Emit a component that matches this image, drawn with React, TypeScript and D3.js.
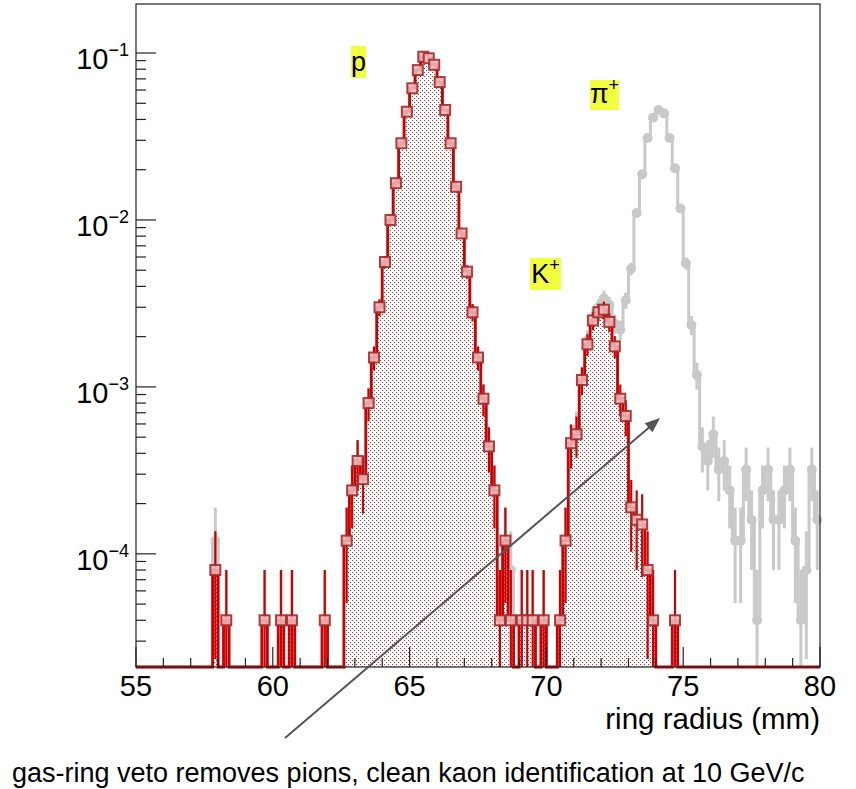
import React, { useRef, useEffect } from 'react';
import * as d3 from 'd3';

// histogram axis: 125 bins of 0.2 mm between 55 and 80 mm
const xMin = 55;
const xMax = 80;
const binWidth = 0.2;
const yMin = 2.1e-5;
const yMax = 0.1966;
// weight of a single entry (normalised)
const entryWeight = 4e-5;

const xTicks = [55, 60, 65, 70, 75, 80];
const yDecades = [1e-1, 1e-2, 1e-3, 1e-4];
const yDecadeExp = ['\u22121', '\u22122', '\u22123', '\u22124'];

// after gas-ring veto (red): [bin centre (mm), fraction]
const vetoBins: [number, number][] = [
  [57.9, 8e-5], [58.3, 4e-5], [59.7, 4e-5], [60.3, 4e-5], [60.7, 4e-5], [61.9, 4e-5],
  [62.7, 1.2e-4], [62.9, 2.4e-4], [63.1, 3.6e-4], [63.3, 2.8e-4], [63.5, 8.0e-4],
  [63.7, 1.5e-3], [63.9, 3.0e-3], [64.1, 5.6e-3], [64.3, 1.0e-2], [64.5, 1.66e-2],
  [64.7, 2.88e-2], [64.9, 4.45e-2], [65.1, 6.15e-2], [65.3, 7.9e-2], [65.5, 9.5e-2],
  [65.7, 9.3e-2], [65.9, 8.5e-2], [66.1, 6.7e-2], [66.3, 4.56e-2], [66.5, 2.88e-2],
  [66.7, 1.58e-2], [66.9, 8.3e-3], [67.1, 4.9e-3], [67.3, 2.8e-3], [67.5, 1.5e-3],
  [67.7, 8.5e-4], [67.9, 4.4e-4], [68.1, 2.4e-4], [68.3, 4e-5], [68.5, 1.2e-4],
  [68.7, 4e-5], [69.1, 4e-5], [69.3, 4e-5], [69.5, 4e-5], [69.9, 4e-5],
  [70.5, 4e-5], [70.7, 1.2e-4], [70.9, 4.6e-4], [71.1, 5.2e-4], [71.3, 1.1e-3],
  [71.5, 1.8e-3], [71.7, 2.5e-3], [71.9, 2.8e-3], [72.1, 2.9e-3], [72.3, 2.45e-3],
  [72.5, 1.75e-3], [72.7, 8.5e-4], [72.9, 6.7e-4], [73.1, 1.9e-4], [73.3, 1.6e-4],
  [73.5, 1.5e-4], [73.7, 8e-5], [73.9, 4e-5], [74.7, 4e-5],
];

// without veto (grey): bins where it differs from the vetoed sample
const noVetoDiff: [number, number][] = [
  [57.9, 1.2e-4], [68.7, 8e-5],
  [71.1, 5.6e-4], [71.5, 1.9e-3], [71.7, 2.6e-3], [71.9, 3.0e-3], [72.1, 3.4e-3],
  [72.3, 3.1e-3], [72.5, 2.4e-3], [72.7, 2.2e-3], [72.9, 3.3e-3], [73.1, 5.1e-3],
  [73.3, 1.1e-2], [73.5, 1.88e-2], [73.7, 3.1e-2], [73.9, 4.1e-2], [74.1, 4.56e-2],
  [74.3, 4.35e-2], [74.5, 3.1e-2], [74.7, 2.04e-2], [74.9, 1.17e-2], [75.1, 5.5e-3],
  [75.3, 2.35e-3], [75.5, 1.18e-3], [75.7, 4.4e-4], [75.9, 3.6e-4], [76.1, 5.2e-4],
  [76.3, 3.2e-4], [76.5, 3.6e-4], [76.7, 2.4e-4], [76.9, 1.2e-4], [77.1, 1.2e-4],
  [77.3, 3.2e-4], [77.5, 1.6e-4], [77.7, 4e-5], [77.9, 2.4e-4], [78.1, 3.2e-4],
  [78.3, 1.6e-4], [78.5, 1.6e-4], [78.7, 2.4e-4], [78.9, 3.2e-4], [79.1, 1.2e-4],
  [79.3, 4e-5], [79.5, 8e-5], [79.7, 3.2e-4], [79.9, 1.6e-4],
];

const caption = 'gas-ring veto removes pions, clean kaon identification at 10 GeV/c';

export default function App() {
  const svgRef = useRef<SVGSVGElement>(null);

  useEffect(() => {
    const width = 856;
    const height = 789;
    const left = 136;
    const right = 820;
    const top = 4;
    const bottom = 667;
    const font = 'Liberation Sans, Arial, Helvetica, sans-serif';

    const svg = d3.select(svgRef.current);
    svg.selectAll('*').remove();
    svg.attr('width', width).attr('height', height).attr('viewBox', [0, 0, width, height]);

    const x = d3.scaleLinear().domain([xMin, xMax]).range([left, right]);
    const y = d3.scaleLog().domain([yMin, yMax]).range([bottom, top]);
    const yv = (v: number) => (v > yMin ? y(v) : bottom);

    const nBins = Math.round((xMax - xMin) / binWidth);
    const binIndex = (c: number) => Math.round((c - xMin - binWidth / 2) / binWidth);
    const red: number[] = new Array(nBins).fill(0);
    vetoBins.forEach(([c, v]) => { red[binIndex(c)] = v; });
    const grey = red.slice();
    noVetoDiff.forEach(([c, v]) => { grey[binIndex(c)] = v; });

    const steps = (arr: number[]) => {
      const pts = arr.map((v, i) => [xMin + i * binWidth, v] as [number, number]);
      pts.push([xMax, arr[nBins - 1]]);
      return pts;
    };
    const line = d3.line<[number, number]>()
      .x(d => x(d[0])).y(d => yv(d[1])).curve(d3.curveStepAfter);
    const area = d3.area<[number, number]>()
      .x(d => x(d[0])).y0(bottom).y1(d => yv(d[1])).curve(d3.curveStepAfter);

    const points = (arr: number[]) => arr
      .map((v, i) => ({ c: xMin + (i + 0.5) * binWidth, v }))
      .filter(d => d.v > 0);
    const err = (v: number) => Math.sqrt(v / entryWeight) * entryWeight;

    svg.append('rect').attr('width', width).attr('height', height).attr('fill', '#fff');

    const defs = svg.append('defs');
    const pat = defs.append('pattern')
      .attr('id', 'dots').attr('patternUnits', 'userSpaceOnUse')
      .attr('width', 4).attr('height', 4);
    pat.append('rect').attr('width', 4).attr('height', 4).attr('fill', '#fff');
    pat.append('rect').attr('x', 0).attr('y', 0).attr('width', 1).attr('height', 1).attr('fill', '#b03030');
    pat.append('rect').attr('x', 2).attr('y', 2).attr('width', 1).attr('height', 1).attr('fill', '#b03030');

    // grey: no veto
    const greyCol = '#c9c9c9';
    svg.append('path').attr('d', line(steps(grey))).attr('fill', 'none')
      .attr('stroke', greyCol).attr('stroke-width', 3);
    const gp = points(grey);
    svg.append('g').selectAll('line').data(gp).join('line')
      .attr('x1', d => x(d.c)).attr('x2', d => x(d.c))
      .attr('y1', d => yv(d.v - err(d.v))).attr('y2', d => yv(d.v + err(d.v)))
      .attr('stroke', greyCol).attr('stroke-width', 3);
    svg.append('g').selectAll('circle').data(gp).join('circle')
      .attr('cx', d => x(d.c)).attr('cy', d => yv(d.v)).attr('r', 5)
      .attr('fill', greyCol);

    // red: gas-ring veto
    const redCol = '#cc0000';
    svg.append('path').attr('d', area(steps(red))).attr('fill', 'url(#dots)');
    svg.append('path').attr('d', line(steps(red))).attr('fill', 'none')
      .attr('stroke', redCol).attr('stroke-width', 2.8);
    const rp = points(red);
    svg.append('g').selectAll('line').data(rp).join('line')
      .attr('x1', d => x(d.c)).attr('x2', d => x(d.c))
      .attr('y1', d => yv(d.v - err(d.v))).attr('y2', d => yv(d.v + err(d.v)))
      .attr('stroke', redCol).attr('stroke-width', 2.2);
    svg.append('g').selectAll('rect').data(rp).join('rect')
      .attr('x', d => x(d.c) - 5).attr('y', d => yv(d.v) - 5)
      .attr('width', 10).attr('height', 10)
      .attr('fill', '#efc0c0').attr('fill-opacity', 0.85)
      .attr('stroke', '#a52a2a').attr('stroke-opacity', 0.9).attr('stroke-width', 2);

    // axes (ROOT style ticks inside the frame)
    const axis = svg.append('g').attr('stroke', '#222').attr('stroke-width', 1.2);
    d3.range(xMin, xMax + 0.5, 1).forEach(t => {
      const major = t % 5 === 0;
      axis.append('line').attr('x1', x(t)).attr('x2', x(t))
        .attr('y1', bottom).attr('y2', bottom - (major ? 20 : 9));
    });
    yDecades.forEach(d => {
      axis.append('line').attr('x1', left).attr('x2', left + 20).attr('y1', y(d)).attr('y2', y(d));
    });
    [1e-5, 1e-4, 1e-3, 1e-2].forEach(d => {
      d3.range(2, 10).forEach(m => {
        const v = d * m;
        if (v < yMin || v > yMax) return;
        axis.append('line').attr('x1', left).attr('x2', left + 10).attr('y1', y(v)).attr('y2', y(v));
      });
    });
    svg.append('rect').attr('x', left).attr('y', top)
      .attr('width', right - left).attr('height', bottom - top)
      .attr('fill', 'none').attr('stroke', '#222').attr('stroke-width', 1.2);

    const labels = svg.append('g').attr('font-family', font).attr('fill', '#000');
    xTicks.forEach(t => {
      labels.append('text').attr('x', x(t)).attr('y', 696)
        .attr('text-anchor', 'middle').attr('font-size', 29).text(t);
    });
    yDecades.forEach((d, i) => {
      const t = labels.append('text').attr('x', 129).attr('y', y(d) + 16)
        .attr('text-anchor', 'end');
      t.append('tspan').attr('font-size', 29).text('10');
      t.append('tspan').attr('font-size', 18).attr('dy', -13).text(yDecadeExp[i]);
    });
    labels.append('text').attr('x', right).attr('y', 729)
      .attr('text-anchor', 'end').attr('font-size', 29.5).text('ring radius (mm)');

    // particle labels on yellow boxes
    const tag = (bx: number, by: number, bw: number, bh: number, main: string, sup: string | null) => {
      labels.append('rect').attr('x', bx).attr('y', by).attr('width', bw).attr('height', bh)
        .attr('fill', '#f1ff3c');
      const t = labels.append('text').attr('x', bx + bw / 2).attr('y', by + bh - 7)
        .attr('text-anchor', 'middle');
      t.append('tspan').attr('font-size', 27).text(main);
      if (sup) t.append('tspan').attr('font-size', 18).attr('dy', -12).text(sup);
    };
    tag(351, 46, 15, 32, 'p', null);
    tag(590, 80, 29, 30, '\u03c0', '+');
    tag(530, 258, 31, 32, 'K', '+');

    // arrow
    svg.append('line').attr('x1', 285).attr('y1', 738).attr('x2', 652).attr('y2', 425)
      .attr('stroke', '#555').attr('stroke-width', 2);
    const ang = Math.atan2(425 - 738, 652 - 285);
    const tipX = 660, tipY = 418;
    const hl = 15, hw = 6;
    const bx = tipX - hl * Math.cos(ang), by = tipY - hl * Math.sin(ang);
    svg.append('path')
      .attr('d', `M${tipX},${tipY}L${bx - hw * Math.sin(ang)},${by + hw * Math.cos(ang)}L${bx + hw * Math.sin(ang)},${by - hw * Math.cos(ang)}Z`)
      .attr('fill', '#555');

    labels.append('text').attr('x', 12).attr('y', 782).attr('font-size', 27).text(caption);
  }, []);

  return (
    <div style={{ position: 'absolute', left: 0, top: 0 }}>
      <svg ref={svgRef}></svg>
    </div>
  );
}
